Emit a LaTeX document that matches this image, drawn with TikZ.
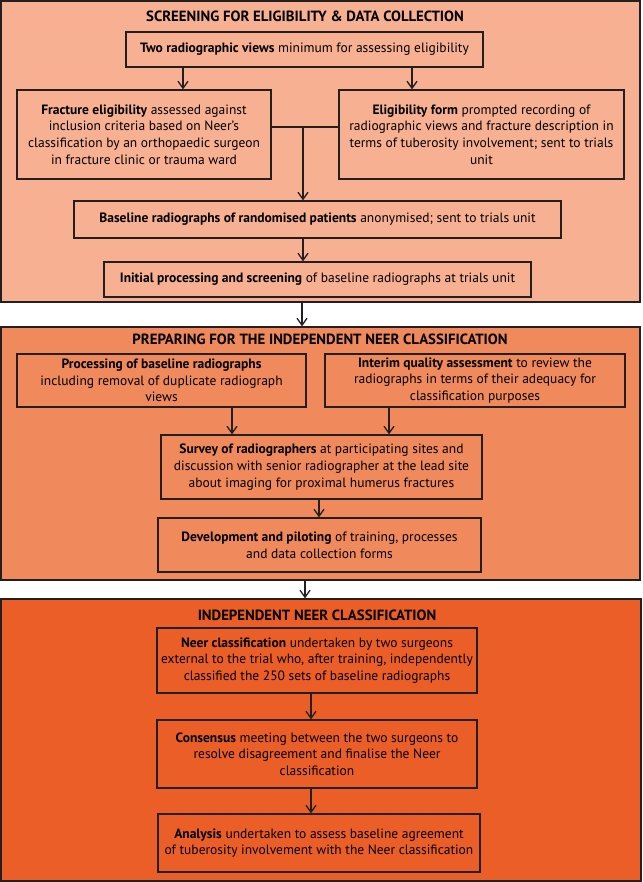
\documentclass[tikz,border=0pt]{standalone}
\usepackage{fontspec}
\setmainfont{PT Sans}
\usetikzlibrary{arrows.meta, calc}
\definecolor{panelA}{RGB}{248,176,146}
\definecolor{panelB}{RGB}{240,137,92}
\definecolor{panelC}{RGB}{235,94,40}
\definecolor{inkline}{RGB}{35,31,32}
\tikzset{
    stage-panel/.style={
        draw=inkline, line width=1.3pt, rectangle, inner sep=0pt
    },
    stage-title/.style={
        font=\fontsize{14.8}{16}\selectfont\bfseries, inner sep=0pt
    },
    step-box/.style={
        draw=inkline, line width=1.3pt, rectangle, inner sep=0pt,
        align=center, font=\fontsize{13.5}{16.7}\selectfont
    },
    flow-arrow/.style={
        draw=inkline, line width=1.3pt, -{Straight Barb[length=7pt,width=10pt,line width=1.3pt]}
    },
}
\begin{document}
\begin{tikzpicture}[x=1pt, y=-1pt]

        \useasboundingbox (0,0) rectangle (642,882);

        % PANELS
        \node[stage-panel, fill=panelA, minimum width=639pt, minimum height=301pt] (STAGE1) at (320.5,151.5) {};
        \node[stage-panel, fill=panelB, minimum width=639pt, minimum height=253pt] (STAGE2) at (320.5,453.5) {};
        \node[stage-panel, fill=panelC, minimum width=640pt, minimum height=282pt] (STAGE3) at (321,740)     {};

        % TITLES
        \node[stage-title] (TITLE1) at (305,16)  {SCREENING FOR ELIGIBILITY \& DATA COLLECTION};
        \node[stage-title] (TITLE2) at (320,339) {PREPARING FOR THE INDEPENDENT NEER CLASSIFICATION};
        \node[stage-title] (TITLE3) at (317,615) {INDEPENDENT NEER CLASSIFICATION};

        % SCREENING BOXES
        \node[step-box, minimum width=357pt, minimum height=35pt] (VIEWS) at (304.5,49.5)
            {\textbf{Two radiographic views} minimum for assessing eligibility};
        \node[step-box, minimum width=254pt, minimum height=89pt] (FRAC)  at (144,134.5)
            {\textbf{Fracture eligibility} assessed against\\ inclusion criteria based on Neer’s\\ classification by an orthopaedic surgeon\\ in fracture clinic or trauma ward};
        \node[step-box, minimum width=285pt, minimum height=89pt] (FORM)  at (481.5,134.5)
            {\textbf{Eligibility form} prompted recording of\\ radiographic views and fracture description in\\ terms of tuberosity involvement; sent to trials\\ unit};
        \node[step-box, minimum width=487pt, minimum height=37pt] (BASE)  at (317.5,219.5)
            {\textbf{Baseline radiographs of randomised patients} anonymised; sent to trials unit};
        \node[step-box, minimum width=427pt, minimum height=35pt] (INIT)  at (317.5,279.5)
            {\textbf{Initial processing and screening} of baseline radiographs at trials unit};

        % PREPARING BOXES
        \node[step-box, minimum width=289pt, minimum height=53pt] (PROC)    at (161.5,380.5)
            {\textbf{Processing of baseline radiographs}\\ including removal of duplicate radiograph\\ views};
        \node[step-box, minimum width=300pt, minimum height=53pt] (INTERIM) at (475,380.5)
            {\textbf{Interim quality assessment} to review the\\ radiographs in terms of their adequacy for\\ classification purposes};
        \node[step-box, minimum width=321pt, minimum height=64pt] (SURVEY)  at (321.5,467)
            {\textbf{Survey of radiographers} at participating sites and\\ discussion with senior radiographer at the lead site\\ about imaging for proximal humerus fractures};
        \node[step-box, minimum width=323pt, minimum height=54pt] (DEVEL)   at (319.5,545)
            {\textbf{Development and piloting} of training, processes\\ and data collection forms};

        % CLASSIFICATION BOXES
        \node[step-box, minimum width=320pt, minimum height=65pt] (NEER)  at (317,660.5)
            {\textbf{Neer classification} undertaken by two surgeons\\ external to the trial who, after training, independently\\ classified the 250 sets of baseline radiographs};
        \node[step-box, minimum width=320pt, minimum height=68pt] (CONS)  at (317,754)
            {\textbf{Consensus} meeting between the two surgeons to\\ resolve disagreement and finalise the Neer\\ classification};
        \node[step-box, minimum width=322pt, minimum height=58pt] (ANAL)  at (319,843)
            {\textbf{Analysis} undertaken to assess baseline agreement\\ of tuberosity involvement with the Neer classification};

        % CONNECTOR POINTS
        \coordinate[] (VIEWSL)  at (183,67);
        \coordinate[] (VIEWSR)  at (412,67);
        \coordinate[] (JOIN)    at (303,127);
        \coordinate[] (BASEOUT) at (303,238);
        \coordinate[] (S1OUT)   at (302,302);
        \coordinate[] (PROCOUT) at (232,407);
        \coordinate[] (INTOUT)  at (389,407);
        \coordinate[] (SURVOUT) at (319,499);
        \coordinate[] (S2OUT)   at (305,580);
        \coordinate[] (NEEROUT) at (311,693);
        \coordinate[] (CONSOUT) at (311,788);

        % SCREENING CONNECTIONS
        \draw[flow-arrow] (VIEWSL) -- (VIEWSL |- FRAC.north);
        \draw[flow-arrow] (VIEWSR) -- (VIEWSR |- FORM.north);
        \draw[draw=inkline, line width=1.3pt] (FRAC.east |- JOIN) -- (FORM.west |- JOIN);
        \draw[flow-arrow] (JOIN) -- (JOIN |- BASE.north);
        \draw[flow-arrow] (BASEOUT) -- (BASEOUT |- INIT.north);
        \draw[flow-arrow] (S1OUT) -- (S1OUT |- STAGE2.north);

        % PREPARING CONNECTIONS
        \draw[flow-arrow] (PROCOUT) -- (PROCOUT |- SURVEY.north);
        \draw[flow-arrow] (INTOUT) -- (INTOUT |- SURVEY.north);
        \draw[flow-arrow] (SURVOUT) -- (SURVOUT |- DEVEL.north);
        \draw[flow-arrow] (S2OUT) -- (S2OUT |- STAGE3.north);

        % CLASSIFICATION CONNECTIONS
        \draw[flow-arrow] (NEEROUT) -- (NEEROUT |- CONS.north);
        \draw[flow-arrow] (CONSOUT) -- (CONSOUT |- ANAL.north);

    \end{tikzpicture}
\end{document}
